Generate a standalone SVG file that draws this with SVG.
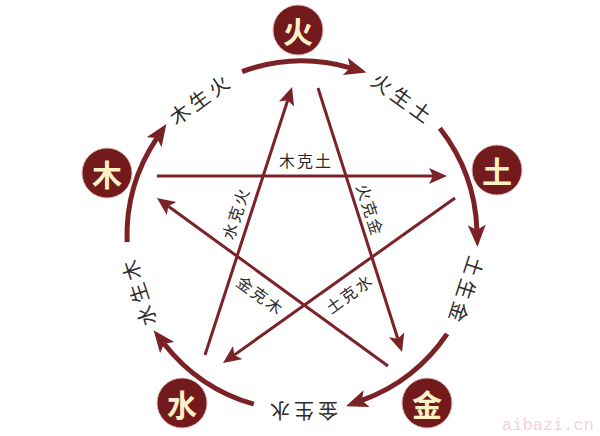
<svg xmlns="http://www.w3.org/2000/svg" width="600" height="436" viewBox="0 0 600 436">
<defs>
<style>
.node circle{fill:#731a1d;stroke:#d9b7b5;stroke-width:1}
.node text{font-family:"Noto Sans CJK SC","Noto Sans CJK JP",sans-serif;font-weight:bold;font-size:30px;fill:#fbf1c6;text-anchor:middle;dominant-baseline:central}
.arc{fill:none;stroke:#7a2226;stroke-width:5;marker-end:url(#bigArrow)}
.line{fill:none;stroke:#7a2429;stroke-width:3;marker-end:url(#smallArrow)}
.olbl{font-family:"Noto Sans CJK SC","Noto Sans CJK JP",sans-serif;font-size:20px;fill:#2e2a2a;text-anchor:middle;dominant-baseline:central;letter-spacing:4px}
.ilbl{font-family:"Noto Sans CJK SC","Noto Sans CJK JP",sans-serif;font-size:16px;fill:#2e2a2a;text-anchor:middle;dominant-baseline:central;letter-spacing:2px}
</style>
<marker id="bigArrow" markerUnits="userSpaceOnUse" markerWidth="24" markerHeight="20" refX="5" refY="9" orient="auto" viewBox="0 0 24 20">
<path d="M0,0 L22,9 L0,18 L5,9 z" fill="#7a2226"/>
</marker>
<marker id="smallArrow" markerUnits="userSpaceOnUse" markerWidth="20" markerHeight="18" refX="4" refY="8" orient="auto" viewBox="0 0 20 18">
<path d="M0,0 L18,8 L0,16 L4,8 z" fill="#7a2429"/>
</marker>
</defs>
<rect width="600" height="436" fill="#ffffff"/>
<g id="connectors">
<path class="arc" d="M242.15,71.55 A175,175 0 0 1 350.2,67.8"/>
<path class="arc" d="M439.9,128.3 A175,175 0 0 1 476.9,229.9"/>
<path class="arc" d="M447.1,333.9 A175,175 0 0 1 361.9,400.4"/>
<path class="arc" d="M253.8,404.2 A175,175 0 0 1 164.1,343.7"/>
<path class="arc" d="M127.1,242.1 A175,175 0 0 1 156.9,138.1"/>
<path class="line" d="M157,176 L433,176"/>
<path class="line" d="M318,88 L397.8,338.7"/>
<path class="line" d="M388,366 L168.3,206.2"/>
<path class="line" d="M205,355 L287.7,100.3"/>
<path class="line" d="M455,198 L234.4,354.9"/>
</g>
<g id="outer-labels">
<text class="olbl" transform="translate(200.3,98) rotate(-36)">木生火</text>
<text class="olbl" transform="translate(403.7,98) rotate(36)">火生土</text>
<text class="olbl" transform="translate(466.5,291.5) rotate(108)">土生金</text>
<text class="olbl" transform="translate(302,411) rotate(180)">金生水</text>
<text class="olbl" transform="translate(137.5,291.5) rotate(-108)">水生木</text>
</g>
<g id="inner-labels">
<text class="ilbl" x="306" y="160">木克土</text>
<text class="ilbl" transform="translate(235,213) rotate(-72)">水克火</text>
<text class="ilbl" transform="translate(371,210) rotate(72)">火克金</text>
<text class="ilbl" transform="translate(261,295) rotate(36)">金克木</text>
<text class="ilbl" transform="translate(349,293) rotate(-36)">土克水</text>
</g>
<g id="node-fire" class="node"><circle cx="298" cy="30" r="25"/><text x="298" y="30">火</text></g>
<g id="node-earth" class="node"><circle cx="497" cy="170" r="25"/><text x="497" y="170">土</text></g>
<g id="node-metal" class="node"><circle cx="427" cy="403" r="25"/><text x="427" y="403">金</text></g>
<g id="node-water" class="node"><circle cx="182" cy="403" r="25"/><text x="182" y="403">水</text></g>
<g id="node-wood" class="node"><circle cx="107" cy="173" r="25"/><text x="107" y="173">木</text></g>
<text x="548" y="430" font-family="Liberation Mono, monospace" font-size="17" fill="#f4d3d4" text-anchor="middle">aibazi.cn</text>
</svg>
